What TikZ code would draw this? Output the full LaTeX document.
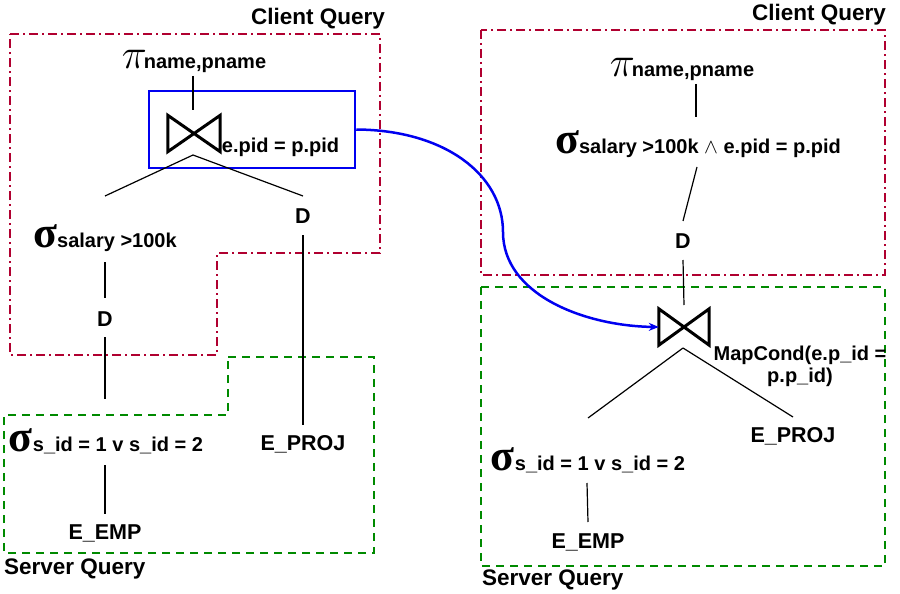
\documentclass[tikz,border=0pt]{standalone}
\usepackage{amsmath,amssymb}
\usepackage{graphicx}
\usepackage{fontspec}
\setmainfont{Liberation Sans}
\newfontfamily\grkfont{Liberation Serif}
\usetikzlibrary{arrows.meta,calc}
\definecolor{cqred}{HTML}{B00030}
\definecolor{sqgreen}{HTML}{008A00}
\definecolor{jblue}{HTML}{0000F0}
\tikzset{
  clientframe/.style={draw=cqred,line width=1.8pt,dash pattern=on 9pt off 4pt on 2pt off 4pt},
  serverframe/.style={draw=sqgreen,line width=1.8pt,dash pattern=on 8pt off 6pt},
  lbl/.style={font=\fontsize{21.5}{24}\selectfont\bfseries,inner sep=0pt},
  boxlbl/.style={font=\fontsize{22.5}{25}\selectfont\bfseries,inner sep=0pt},
  op/.style={inner sep=0pt,font=\fontsize{20}{22}\selectfont\bfseries},
  sub/.style={font=\fontsize{20}{22}\selectfont\bfseries,inner sep=0pt},
  joinnode/.style={minimum width=#1,minimum height=36pt,inner sep=0pt},
  edge/.style={draw=black,line width=1.2pt},
  bowtie/.style={draw=black,line width=3pt,line join=miter},
}
\newcommand{\mysig}{{\grkfont\bfseries\fontsize{44}{44}\selectfont σ}}
\newcommand{\mypi}{\scalebox{1.7}{\fontsize{24.88}{26}\selectfont$\pi$}\kern-3pt}
\begin{document}
\begin{tikzpicture}[x=1pt,y=-1pt]
\useasboundingbox (0,0) rectangle (900,594);
% ---------- left frames ----------
\draw[clientframe] (10,34) -- (380,34) -- (380,253) -- (217,253) -- (217,355) -- (10,355) -- cycle;
\draw[serverframe] (228,357) -- (374,357) -- (374,553) -- (4,553) -- (4,415) -- (228,415) -- cycle;
\node[boxlbl,anchor=east] (cq1) at (385,19) {Client Query};
\node[boxlbl,anchor=west] (sq1) at (4,569) {Server Query};
% ---------- left tree ----------
\node[op] (pi1) at (194,61) {\mypi name,pname};
\node[draw=jblue,line width=2.5pt,minimum width=206pt,minimum height=77pt,inner sep=0pt] (bx) at (252,129.5) {};
\node[joinnode=52pt] (j1) at (194,133.5) {};
\draw[bowtie] (j1.north west) -- (j1.south west) -- (j1.north east) -- (j1.south east) -- cycle;
\node[sub] (c1) at (280.5,147) {e.pid = p.pid};
\node[op] (s1) at (105,238) {\mysig salary >100k};
\node[lbl] (d1) at (105,319) {D};
\node[lbl] (d2) at (303,216) {D};
\node[op] (s2) at (106,441) {\mysig s\_id = 1 v s\_id = 2};
\node[lbl] (emp1) at (105,533) {E\_EMP};
\node[lbl] (proj1) at (303,444) {E\_PROJ};
\coordinate (j1b) at (193,155);
\coordinate (e1l) at (105,196);
\coordinate (e1r) at (303,196);
\draw[edge] (193,76) -- (193,110);
\draw[edge] (j1b) -- (e1l);
\draw[edge] (j1b) -- (e1r);
\draw[edge] (s1.south |- 0,262) -- (d1.north |- 0,298);
\draw[edge] (d1.south |- 0,337) -- (105,399);
\draw[edge] (d2.south |- 0,235) -- (proj1.north |- 0,425);
\draw[edge] (105,465) -- (emp1.north |- 0,514);
% ---------- right frames ----------
\draw[clientframe] (481,30) rectangle (885,275);
\draw[serverframe] (481,287) rectangle (885,566);
\node[boxlbl,anchor=east] (cq2) at (886,15) {Client Query};
\node[boxlbl,anchor=west] (sq2) at (482,580) {Server Query};
% ---------- right tree ----------
\node[op] (pi2) at (682,69) {\mypi name,pname};
\node[op] (s3) at (698,144) {\mysig salary >100k $\wedge$ e.pid = p.pid};
\node[lbl] (d3) at (683,241) {D};
\node[joinnode=50pt] (j2) at (684,327) {};
\draw[bowtie] (j2.north west) -- (j2.south west) -- (j2.north east) -- (j2.south east) -- cycle;
\node[sub,align=center] (mc) at (800,366) {MapCond(e.p\_id =\\p.p\_id)};
\node[op] (s4) at (588,460) {\mysig s\_id = 1 v s\_id = 2};
\node[lbl] (emp2) at (588,542) {E\_EMP};
\node[lbl] (proj2) at (793,436) {E\_PROJ};
\coordinate (j2b) at (683,348);
\coordinate (e2l) at (588,418);
\coordinate (e2r) at (793,417);
\draw[edge] (696,84) -- (696,117);
\draw[edge] (697,167) -- (683,221);
\draw[edge] (d3.south |- 0,260) -- (j2.north |- 0,305);
\draw[edge] (j2b) -- (e2l);
\draw[edge] (j2b) -- (e2r);
\draw[edge] (587,483) -- (emp2.north |- 0,522);
% ---------- blue arrow ----------
\draw[draw=jblue,line width=2.5pt,-{Stealth[length=10pt,width=8pt]}]
  (bx.east) .. controls (445,130) and (503,175) .. (503,232)
  .. controls (503,295) and (585,326) .. (j2.west);
\end{tikzpicture}
\end{document}
